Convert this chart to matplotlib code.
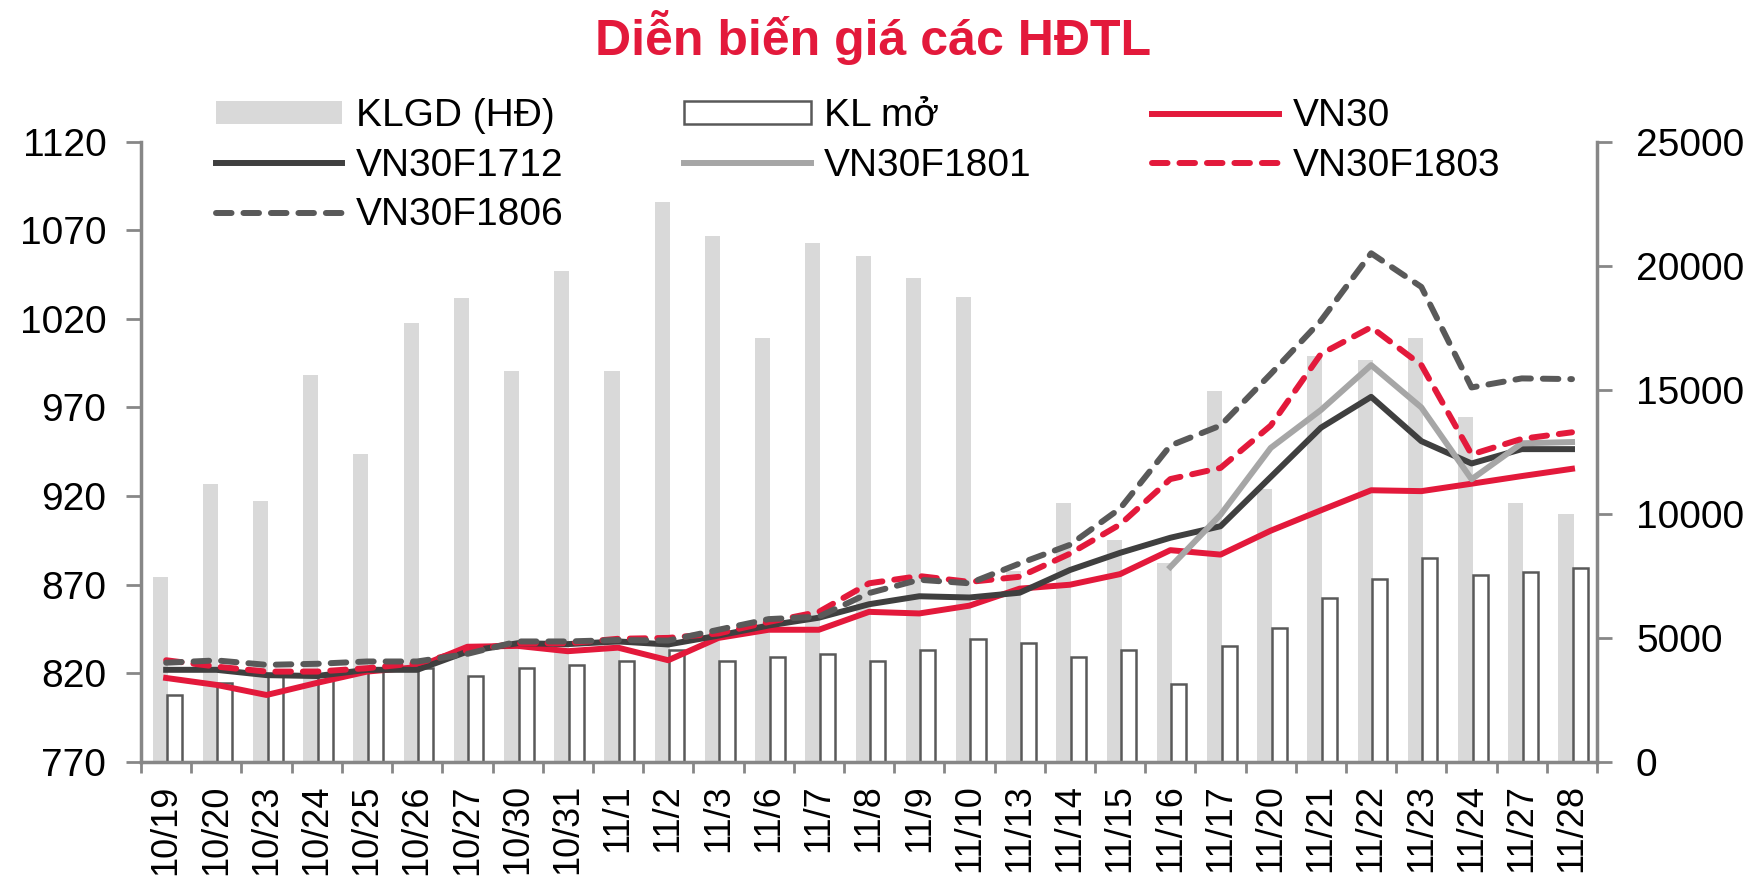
import numpy as np
import matplotlib.pyplot as plt

plt.rcParams['font.family'] = ['Liberation Sans', 'DejaVu Sans']

# Ngày giao dịch
dates = ['10/19', '10/20', '10/23', '10/24', '10/25', '10/26', '10/27', '10/30', '10/31',
         '11/1', '11/2', '11/3', '11/6', '11/7', '11/8', '11/9', '11/10', '11/13',
         '11/14', '11/15', '11/16', '11/17', '11/20', '11/21', '11/22', '11/23',
         '11/24', '11/27', '11/28']

# Khối lượng (trục phải)
klgd = [7450, 11200, 10500, 15600, 12400, 17700, 18700, 15750, 19800, 15750, 22550,
        21200, 17100, 20900, 20400, 19500, 18750, 7700, 10450, 8950, 8000, 14950,
        11000, 16350, 16200, 17100, 13900, 10450, 10000]
kl_mo = [2700, 3200, 3450, 3450, 3650, 3790, 3470, 3780, 3920, 4060, 4500, 4060, 4230,
         4370, 4060, 4520, 4950, 4800, 4220, 4520, 3150, 4680, 5400, 6620, 7380, 8240,
         7530, 7670, 7800]

# Giá (trục trái)
vn30 = [817.4, 813.5, 807.8, 814.6, 821, 823.5, 835, 835.5, 832.5, 834.5, 827.4, 840,
        844.6, 844.6, 854.7, 853.8, 858.2, 867.8, 870, 876, 889.5, 887, 900.5, 912,
        923.3, 922.8, 927, 931.3, 935.4]
f1712 = [822, 822, 819, 818.5, 822, 822, 832.3, 837, 836.5, 838, 836.3, 841.3, 847,
         851.4, 859, 863.5, 862.8, 865.5, 878.3, 888, 896.5, 903, 930.8, 958.6, 976,
         951, 938.4, 946.5, 946.5]
f1801 = [np.nan] * 20 + [880, 909.5, 947.2, 968.6, 993.9, 970, 929.5, 949.8, 950.5]
f1803 = [827.4, 823.8, 821, 821, 822.9, 825.7, 833, 837, 837, 839.5, 840, 842.5, 849,
         854.7, 870.8, 874.9, 871.6, 874.5, 887.5, 904, 929.6, 935.9, 959.8, 1000.2,
         1015.3, 993.9, 943.5, 952.3, 956]
f1806 = [826, 827.3, 824.8, 825.4, 826.7, 826.7, 831, 838, 838, 838.8, 838.5, 844.6,
         850.6, 852, 865.3, 872.8, 870.8, 882, 892.5, 913, 948.5, 959.8, 988.9, 1019,
         1057, 1038, 981.3, 986.4, 986]

RED = '#E3193B'
AXIS = '#878787'

fig = plt.figure(figsize=(17.63, 8.85), dpi=100)
ax_bar = fig.add_axes([0.080, 0.139, 0.8259, 0.701])
x = np.arange(len(dates))

# Cột khối lượng
b1 = ax_bar.bar(x - 0.12, klgd, 0.30, color='#D9D9D9', label='KLGD (HĐ)', zorder=1)
b2 = ax_bar.bar(x + 0.17, kl_mo, 0.30, facecolor='white', edgecolor='#595959',
                linewidth=1.8, label='KL mở', zorder=2)

ax_line = ax_bar.twinx()
ax_bar.yaxis.tick_right()
ax_line.yaxis.tick_left()

lw = 4.3
dash = dict(dashes=(2.6, 2.0), dash_capstyle='round')
l_vn30, = ax_line.plot(x, vn30, color=RED, lw=lw, label='VN30')
l_1712, = ax_line.plot(x, f1712, color='#3F3F3F', lw=lw, label='VN30F1712')
l_1801, = ax_line.plot(x, f1801, color='#A6A6A6', lw=lw, label='VN30F1801')
l_1803, = ax_line.plot(x, f1803, color=RED, lw=lw, label='VN30F1803', **dash)
l_1806, = ax_line.plot(x, f1806, color='#595959', lw=lw, label='VN30F1806', **dash)

# Trục
ax_bar.set_xlim(-0.5, len(dates) - 0.5)
ax_bar.set_ylim(0, 25000)
ax_bar.set_yticks(np.arange(0, 25001, 5000))
ax_line.set_ylim(770, 1120)
ax_line.set_yticks(np.arange(770, 1121, 50))

ax_bar.set_xticks(np.arange(-0.5, len(dates), 1))
ax_bar.set_xticklabels([])
ax_bar.set_xticks(x, minor=True)
ax_bar.set_xticklabels(dates, minor=True, rotation=90, fontsize=26)
ax_bar.tick_params(axis='x', which='major', length=8, width=2, color=AXIS)
ax_bar.tick_params(axis='x', which='minor', length=0, pad=16)
ax_bar.tick_params(axis='y', length=11, width=2, color=AXIS, labelsize=28, pad=17)
ax_line.tick_params(axis='y', length=11, width=2, color=AXIS, labelsize=28, pad=14)

for s in ['top', 'left']:
    ax_bar.spines[s].set_visible(False)
for s in ['right', 'bottom']:
    ax_bar.spines[s].set_color(AXIS)
    ax_bar.spines[s].set_linewidth(2.5)
for s in ['top', 'right', 'bottom']:
    ax_line.spines[s].set_visible(False)
ax_line.spines['left'].set_color(AXIS)
ax_line.spines['left'].set_linewidth(2.5)

# Chú thích
handles = [b1, l_1712, l_1806, b2, l_1801, l_vn30, l_1803]
labels = [h.get_label() for h in handles]
fig.legend(handles, labels, loc='upper left', bbox_to_anchor=(0.1225, 0.889),
           ncol=3, frameon=False, fontsize=28, borderpad=0, borderaxespad=0,
           handlelength=3.25, handleheight=0.5, handletextpad=0.35,
           columnspacing=3.1, labelspacing=0.35)

fig.text(0.495, 0.958, 'Diễn biến giá các HĐTL', ha='center', va='center',
         fontsize=36, fontweight='bold', color=RED)

fig.savefig('out.png', dpi=100)
